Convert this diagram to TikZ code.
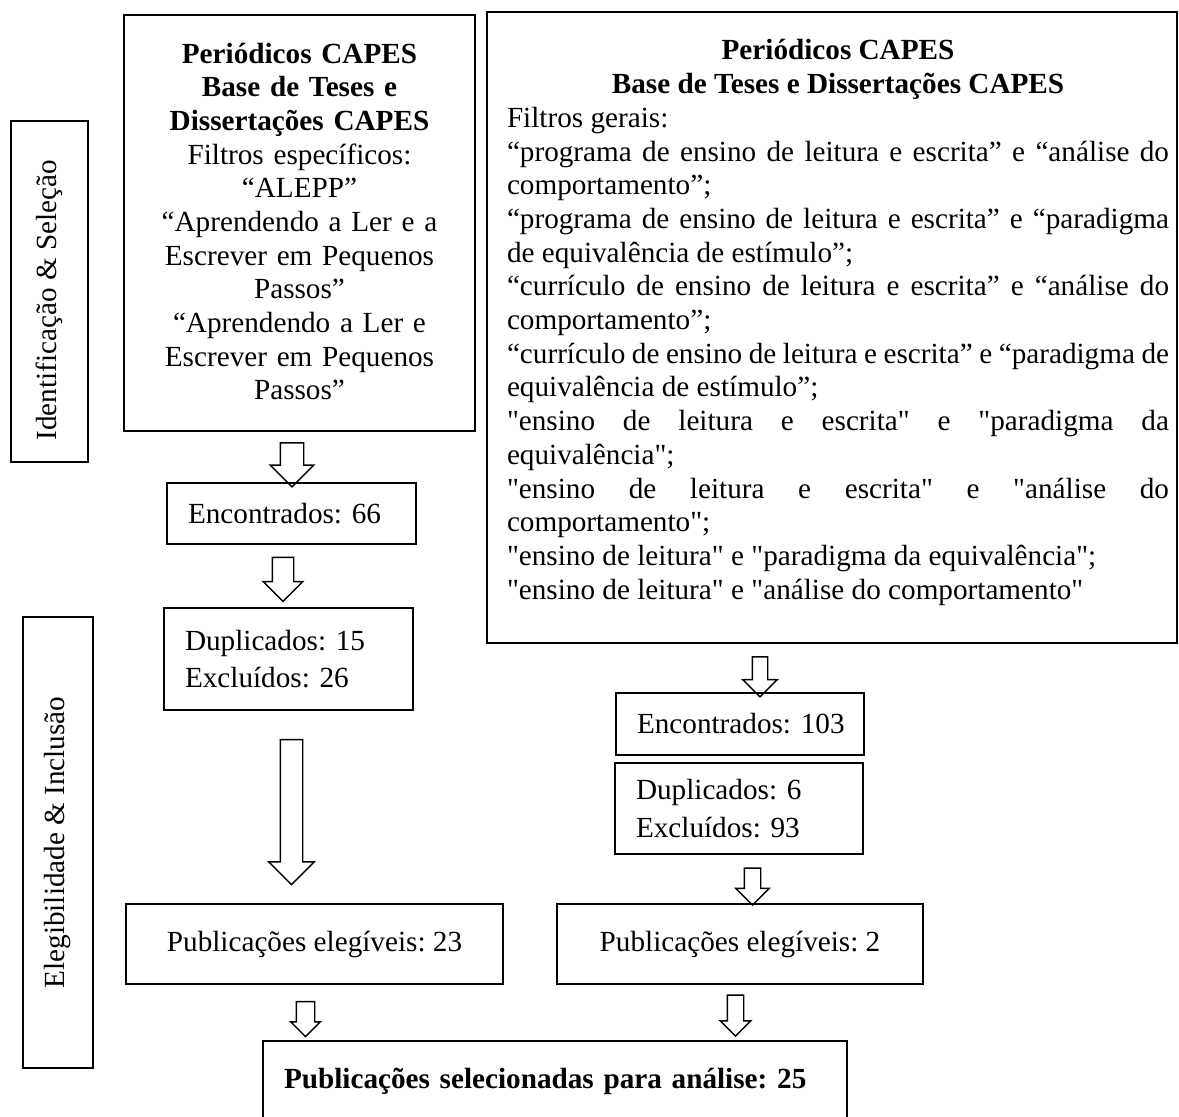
\documentclass[tikz,border=0pt]{standalone}
\usepackage{fontspec}
\setmainfont{Liberation Serif}[Ligatures=TeXOff]
\frenchspacing
\usetikzlibrary{shapes.arrows}
\tikzset{
  boxline/.style={draw, line width=1.4pt},
  phase/.style={boxline, rotate=90, inner sep=0pt},
  leftbox/.style={boxline, align=left, inner xsep=15.75pt, inner ysep=0pt, font=\fontsize{21.9}{28.2}\selectfont},
  midbox/.style={boxline, align=center, inner sep=0pt},
  downarrow/.style n args={3}{draw, line width=1.1pt, single arrow, rotate=-90, inner xsep=0pt,
    single arrow head indent=0pt, minimum height=#1, inner ysep=#2, single arrow head extend=#3}
}
\begin{document}
\begin{tikzpicture}[x=0.75pt, y=-0.75pt, font=\fontsize{21.9}{25.27}\selectfont]
	\useasboundingbox (0,0) rectangle (1179,1117);
	\clip (0,0) rectangle (1179,1117);
	%phase labels
	\node[phase, minimum width=255.75pt, minimum height=57.75pt] (ident) at (49.5,291.5) {Identificação \& Seleção\hspace*{13pt}};
	\node[phase, minimum width=338.25pt, minimum height=52.5pt] (elig) at (58,842.5) {Elegibilidade \& Inclusão};
	%left column: specific filters
	\node[boxline, minimum width=263.25pt, minimum height=312pt] (spec) at (299.5,223) {};
	\node[anchor=base, text width=255pt, align=center, inner sep=0pt] (spectext) at (299.5,63)
		{\textbf{Periódicos CAPES}\\ \textbf{Base de Teses e}\\ \textbf{Dissertações CAPES}\\
		Filtros específicos:\\ “ALEPP”\\ “Aprendendo a Ler e a\\ Escrever em Pequenos\\ Passos”\\
		“Aprendendo a Ler e\\ Escrever em Pequenos\\ Passos”};
	\node[leftbox, text width=155.25pt, minimum height=45.75pt] (enc66) at (291.5,513.5) {Encontrados:~66};
	\node[leftbox, text width=155.25pt, minimum height=76.5pt] (dup15) at (288.5,659) {Duplicados:~15\\ Excluídos:~26};
	\node[midbox, minimum width=282.75pt, minimum height=60pt] (pub23) at (314.5,944) {Publicações elegíveis: 23};
	%right column: general filters
	\node[boxline, minimum width=517.5pt, minimum height=473.25pt] (gen) at (832,327.5) {};
	\node[anchor=base, text width=496.5pt, align=justify, inner sep=0pt] (gentext) at (838,60)
		{\tolerance=10000 \hyphenpenalty=10000
		\makebox[\linewidth]{\bfseries Periódicos CAPES}\\
		\makebox[\linewidth]{\bfseries Base de Teses e Dissertações CAPES}\\
		Filtros gerais:\\
		“programa de ensino de leitura e escrita” e “análise do\linebreak comportamento”;\\
		“programa de ensino de leitura e escrita” e “paradigma\linebreak de equivalência de estímulo”;\\
		“currículo de ensino de leitura e escrita” e “análise do\linebreak comportamento”;\\
		“currículo de ensino de leitura e escrita” e “paradigma de\linebreak equivalência de estímulo”;\\
		"ensino de leitura e escrita" e "paradigma da\linebreak equivalência";\\
		"ensino de leitura e escrita" e "análise do\linebreak comportamento";\\
		"ensino de leitura" e "paradigma da equivalência";\\
		"ensino de leitura" e "análise do comportamento"};
	\node[leftbox, text width=154.5pt, minimum height=46.5pt] (enc103) at (740,724) {Encontrados:~103};
	\node[leftbox, text width=154.5pt, minimum height=68.25pt] (dup6) at (739,808.5) {Duplicados:~6\\ Excluídos:~93};
	\node[midbox, minimum width=274.5pt, minimum height=60pt] (pub2) at (740,944) {Publicações elegíveis: 2};
	%final result
	\node[leftbox, text width=406.5pt, minimum height=60pt] (final) at (555,1081) {\textbf{Publicações selecionadas para análise: 25}};
	%hollow arrows
	\node[downarrow={33pt}{8.25pt}{7.5pt}] (a1) at (292,459) {};
	\node[downarrow={33pt}{7.5pt}{6.75pt}] (a2) at (283,574) {};
	\node[downarrow={108.75pt}{7.875pt}{8.625pt}] (a3) at (291.5,806.5) {};
	\node[downarrow={26.25pt}{6.375pt}{4.125pt}] (a4) at (305.5,1014.5) {};
	\node[downarrow={30pt}{5.25pt}{7.125pt}] (a5) at (760,673) {};
	\node[downarrow={27.75pt}{5.625pt}{6.375pt}] (a6) at (752.5,882.5) {};
	\node[downarrow={30.75pt}{5.625pt}{5.25pt}] (a7) at (735.5,1011.5) {};
\end{tikzpicture}
\end{document}
